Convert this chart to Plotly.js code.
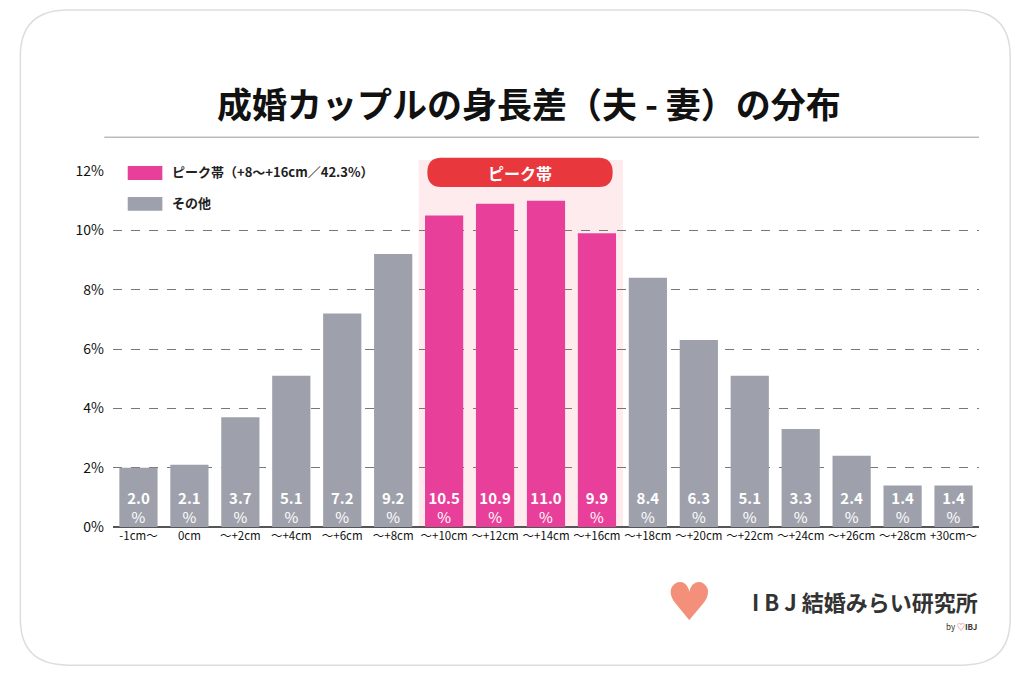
<!DOCTYPE html>
<html><head><meta charset="utf-8">
<script src="https://cdn.plot.ly/plotly-3.0.1.min.js"></script>
<style>body{margin:0;background:#fff}#plot1{width:1024px;height:676px}</style>
</head><body><div id="plot1"></div>
<script>
// 身長差カテゴリ
const categories = ['-1cm〜','0cm','〜+2cm','〜+4cm','〜+6cm','〜+8cm','〜+10cm','〜+12cm','〜+14cm','〜+16cm',
  '〜+18cm','〜+20cm','〜+22cm','〜+24cm','〜+26cm','〜+28cm','+30cm〜'];
const shares = [2.0,2.1,3.7,5.1,7.2,9.2,10.5,10.9,11.0,9.9,8.4,6.3,5.1,3.3,2.4,1.4,1.4];
const peakCats = ['〜+10cm','〜+12cm','〜+14cm','〜+16cm'];
const yTicks = [0,2,4,6,8,10,12];

const pink = '#E8409A', gray = '#9EA1AB', red = '#E8383D';
const font = 'Noto Sans CJK JP, Noto Sans, sans-serif';

const colors = categories.map(c => peakCats.includes(c) ? pink : gray);
const xi = categories.map((c, i) => i);

// rounded rect path with Q corners
function roundRect(x0, x1, y0, y1, rx, ry) {
  return `M${x0+rx},${y0} L${x1-rx},${y0} Q${x1},${y0} ${x1},${y0+ry} L${x1},${y1-ry} Q${x1},${y1} ${x1-rx},${y1}` +
    ` L${x0+rx},${y1} Q${x0},${y1} ${x0},${y1-ry} L${x0},${y0+ry} Q${x0},${y0} ${x0+rx},${y0} Z`;
}

const traceBars = {
  x: xi, y: shares, type: 'bar', width: 0.75,
  marker: { color: colors }, hoverinfo: 'skip',
};
const traceText = {
  x: xi, y: shares.map(() => 0), mode: 'text', type: 'scatter',
  text: shares.map(v => '<b>' + v.toFixed(1) + '</b><br>%'),
  textposition: 'top center',
  textfont: { color: '#fff', size: 15, family: font },
  cliponaxis: false, hoverinfo: 'skip',
};

const layout = {
  width: 1024, height: 676,
  margin: { l: 113, r: 45, t: 171, b: 149 },
  paper_bgcolor: '#fff', plot_bgcolor: 'rgba(0,0,0,0)',
  showlegend: false,
  font: { family: font, color: '#222' },
  xaxis: {
    range: [-0.5, 16.5], tickvals: xi, ticktext: categories, tickangle: 0,
    tickfont: { size: 11.5, color: '#111' }, showgrid: false, zeroline: false, ticks: '',
    fixedrange: true,
  },
  yaxis: {
    range: [0, 12], tickvals: yTicks, ticktext: yTicks.map(v => v + '%'),
    tickfont: { size: 14, color: '#111' }, showgrid: true,
    gridcolor: '#777', griddash: 'dash', gridwidth: 1,
    zeroline: true, zerolinecolor: '#555', zerolinewidth: 1.5, ticklabelstandoff: 8,
  },
  shapes: [
    // card
    { type: 'path', xref: 'paper', yref: 'paper', layer: 'below',
      path: roundRect(-0.107, 1.036, -0.388, 1.452, 0.055, 0.13),
      line: { color: '#ddd', width: 1.5 }, fillcolor: 'rgba(0,0,0,0)' },
    // title underline
    { type: 'line', xref: 'paper', yref: 'paper', x0: -0.01, x1: 1.0, y0: 1.095, y1: 1.095,
      line: { color: '#999', width: 1 } },
    // peak band
    { type: 'rect', xref: 'paper', yref: 'paper', x0: 0.353, x1: 0.589, y0: 0, y1: 1.031, layer: 'below',
      fillcolor: '#FDEBEE', line: { width: 0 } },
    { type: 'path', xref: 'paper', yref: 'paper', path: roundRect(0.363, 0.577, 0.955, 1.037, 0.016, 0.041),
      fillcolor: red, line: { width: 0 } },
    // legend boxes
    { type: 'rect', xref: 'paper', yref: 'paper', x0: 0.017, x1: 0.057, y0: 0.975, y1: 1.014, fillcolor: pink, line: { width: 0 } },
    { type: 'rect', xref: 'paper', yref: 'paper', x0: 0.017, x1: 0.057, y0: 0.888, y1: 0.927, fillcolor: gray, line: { width: 0 } },
  ],
  annotations: [
    { xref: 'paper', yref: 'paper', x: 0.48, y: 1.27, text: '<b>成婚カップルの身長差（夫 - 妻）の分布</b>',
      showarrow: false, font: { size: 35, color: '#111', family: font } },
    { xref: 'paper', yref: 'paper', x: 0.47, y: 1.033, text: '<b>ピーク帯</b>', showarrow: false,
      font: { size: 16, color: '#fff', family: font } },
    { xref: 'paper', yref: 'paper', x: 0.066, y: 1.032, xanchor: 'left', text: '<b>ピーク帯（+8〜+16cm／42.3%）</b>', showarrow: false,
      font: { size: 13, color: '#222', family: font } },
    { xref: 'paper', yref: 'paper', x: 0.066, y: 0.945, xanchor: 'left', text: '<b>その他</b>', showarrow: false,
      font: { size: 13, color: '#222', family: font } },
    // logo
    { xref: 'paper', yref: 'paper', x: 0.695, y: -0.3, text: '♥', showarrow: false,
      font: { size: 52, color: '#F4907A', family: 'DejaVu Sans' } },
    { xref: 'paper', yref: 'paper', x: 0.735, y: -0.258, xanchor: 'left', text: '<b>I B J 結婚みらい研究所</b>', showarrow: false,
      font: { size: 22, color: '#333', family: font } },
    { xref: 'paper', yref: 'paper', x: 1.0, y: -0.3, xanchor: 'right', text: 'by <span style="color:#E8383D">♡</span><b>IBJ</b>', showarrow: false,
      font: { size: 8, color: '#333', family: font } },
  ],
};

Plotly.newPlot('plot1', [traceBars, traceText], layout, { displayModeBar: false, staticPlot: true });
</script></body></html>
